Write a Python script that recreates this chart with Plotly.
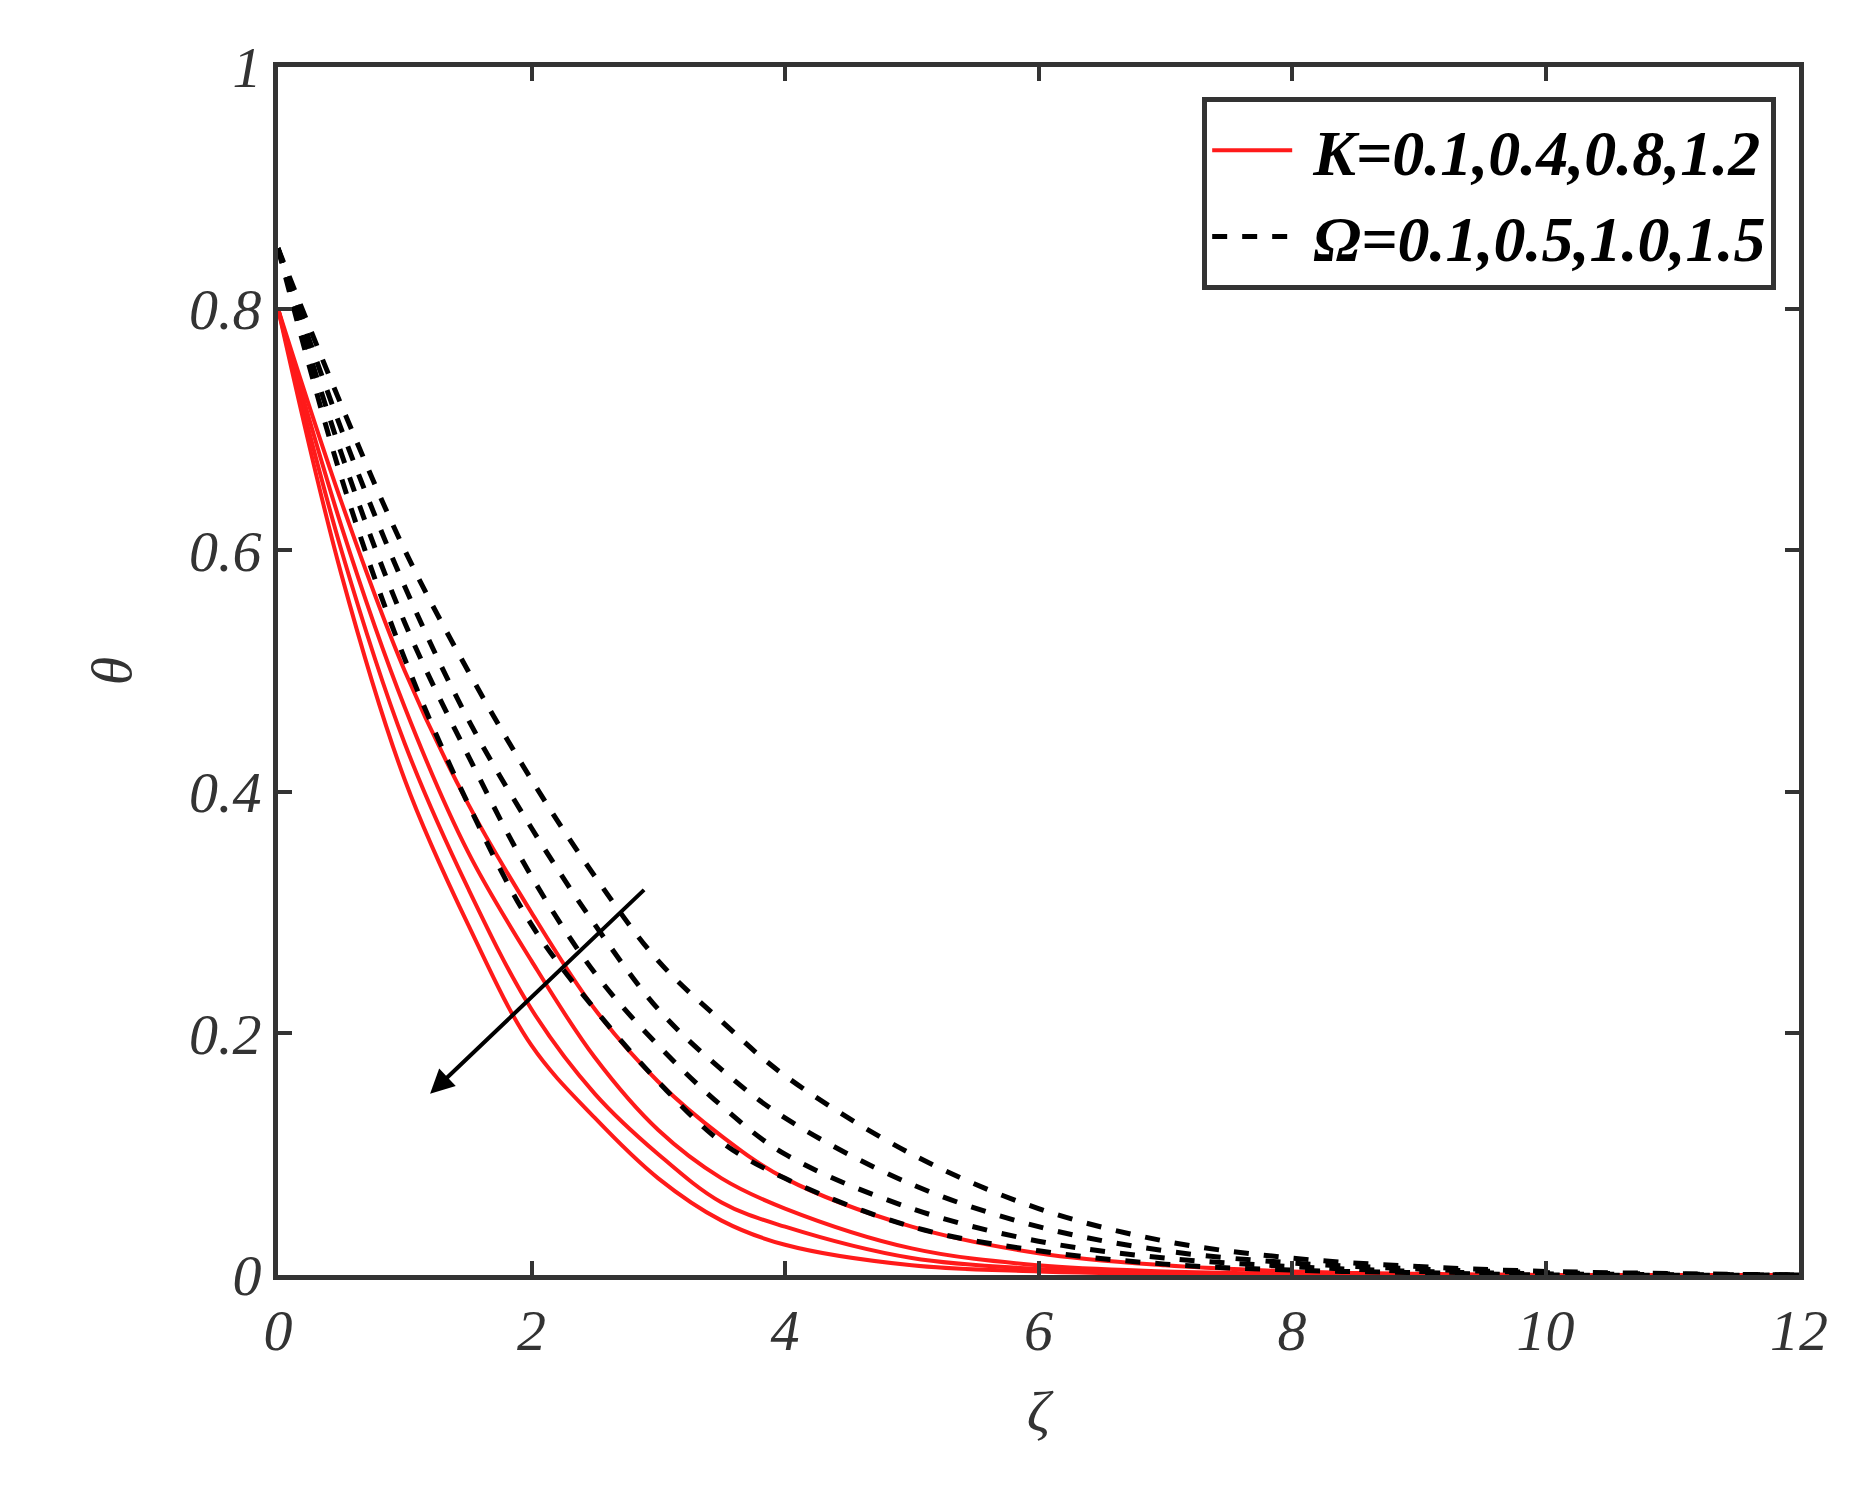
import plotly.graph_objects as go

x = [0, 0.5, 1, 1.5, 2, 2.5, 3, 3.5, 4, 5, 6, 7, 8, 9, 10, 12]
K_curves = [
    [0.80, 0.64, 0.50, 0.39, 0.30, 0.22, 0.16, 0.115, 0.08, 0.04, 0.018, 0.008, 0.003, 0.001, 0, 0],
    [0.80, 0.62, 0.47, 0.35, 0.26, 0.18, 0.12, 0.08, 0.055, 0.022, 0.008, 0.003, 0.001, 0, 0, 0],
    [0.80, 0.60, 0.44, 0.32, 0.22, 0.15, 0.10, 0.06, 0.04, 0.014, 0.005, 0.002, 0, 0, 0, 0],
    [0.80, 0.58, 0.41, 0.29, 0.19, 0.13, 0.08, 0.045, 0.025, 0.008, 0.003, 0.001, 0, 0, 0, 0],
]
Om_curves = [
    [0.85, 0.72, 0.60, 0.50, 0.41, 0.33, 0.26, 0.21, 0.165, 0.10, 0.055, 0.028, 0.014, 0.007, 0.003, 0],
    [0.85, 0.70, 0.57, 0.46, 0.37, 0.29, 0.22, 0.17, 0.13, 0.075, 0.04, 0.02, 0.01, 0.005, 0.002, 0],
    [0.85, 0.68, 0.54, 0.43, 0.33, 0.25, 0.19, 0.14, 0.10, 0.055, 0.028, 0.014, 0.007, 0.003, 0.001, 0],
    [0.85, 0.66, 0.51, 0.39, 0.29, 0.22, 0.16, 0.11, 0.08, 0.04, 0.02, 0.009, 0.004, 0.002, 0, 0],
]
K_label = " K=0.1,0.4,0.8,1.2"
Om_label = " Ω=0.1,0.5,1.0,1.5"

fig = go.Figure()
for i, y in enumerate(K_curves):
    fig.add_trace(go.Scatter(x=x, y=y, mode="lines", line=dict(color="#ff1a1a", width=4, shape="spline"),
                             name=K_label, showlegend=(i == 0)))
for i, y in enumerate(Om_curves):
    fig.add_trace(go.Scatter(x=x, y=y, mode="lines", line=dict(color="black", width=5, dash="dash", shape="spline"),
                             name=Om_label, showlegend=(i == 0)))

fig.add_annotation(x=1.2, y=0.15, ax=2.9, ay=0.32, xref="x", yref="y", axref="x", ayref="y",
                   showarrow=True, arrowhead=2, arrowsize=1.2, arrowwidth=4, arrowcolor="black", text="")

font = dict(family="Liberation Serif", size=58, color="#333333", style="italic")
axis = dict(showline=True, linewidth=5, linecolor="#333333", mirror="ticks", ticks="inside",
            ticklen=14, tickwidth=4, tickcolor="#333333", showgrid=False, zeroline=False,
            tickfont=font)
fig.update_layout(
    width=1850, height=1509, plot_bgcolor="white", paper_bgcolor="white",
    margin=dict(l=270, r=59, t=59, b=242),
    xaxis=dict(range=[0, 12], dtick=2, title=dict(text="ζ", font=font, standoff=30), **axis),
    yaxis=dict(range=[0, 1], tickvals=[0, 0.2, 0.4, 0.6, 0.8, 1], ticktext=["0", "0.2", "0.4", "0.6", "0.8", "1"],
               title=dict(text="θ", font=font, standoff=40), **axis),
    legend=dict(x=0.985, y=0.975, xanchor="right", yanchor="top", bgcolor="white",
                bordercolor="#333333", borderwidth=5, itemwidth=80,
                font=dict(family="Liberation Serif", size=64, color="black", style="italic", weight="bold")),
)
fig.write_html("out.html")
